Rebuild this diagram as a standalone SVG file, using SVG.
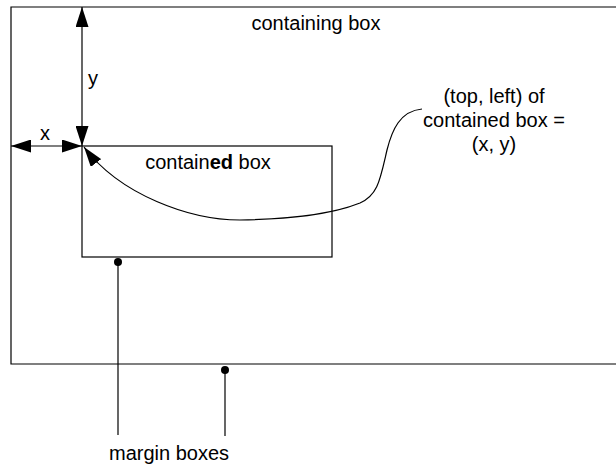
<svg xmlns="http://www.w3.org/2000/svg" width="616" height="466" viewBox="0 0 616 466">
<style>
.ln{stroke:#000;stroke-width:1.2;fill:none}
.t{font-family:"Liberation Sans",Arial,sans-serif;font-size:20px;fill:#000}
</style>
<defs>
<marker id="ah" viewBox="0 0 20 13" markerWidth="20" markerHeight="13" refX="20" refY="6.5" orient="auto-start-reverse" markerUnits="userSpaceOnUse">
<path d="M0,0 L20,6.5 L0,13 Z" fill="#000"/>
</marker>
</defs>
<rect width="616" height="466" fill="#fff"/>
<g id="containing">
<path class="ln" d="M620,7 L11,7 L11,364 L620,364"/>
<text class="t" x="316" y="30" text-anchor="middle">containing box</text>
</g>
<g id="contained">
<rect class="ln" x="82" y="146" width="250" height="111"/>
<text class="t" x="208" y="169" text-anchor="middle">contain<tspan font-weight="bold">ed</tspan> box</text>
</g>
<g id="label">
<text class="t" x="494" y="103" text-anchor="middle">(top, left) of</text>
<text class="t" x="494" y="127" text-anchor="middle">contained box =</text>
<text class="t" x="494" y="151" text-anchor="middle">(x, y)</text>
</g>
<g id="margin">
<text class="t" x="169" y="460" text-anchor="middle">margin boxes</text>
</g>
<g id="connectors">
<line class="ln" x1="82" y1="7" x2="82" y2="146" marker-start="url(#ah)" marker-end="url(#ah)"/>
<line class="ln" x1="11" y1="146" x2="82" y2="146" marker-start="url(#ah)" marker-end="url(#ah)"/>
<path class="ln" d="M422,109 C400,111 392,130 387,150 C380,180 378,195 360,203 C330,215 290,219 240,220 C190,220 120,195 84,147" marker-end="url(#ah)"/>
<circle cx="118" cy="262" r="4" fill="#000"/>
<line class="ln" x1="118" y1="262" x2="118" y2="435"/>
<circle cx="225" cy="370" r="4" fill="#000"/>
<line class="ln" x1="225" y1="370" x2="225" y2="436"/>
<text class="t" x="88" y="85">y</text>
<text class="t" x="40" y="140">x</text>
</g>
</svg>
